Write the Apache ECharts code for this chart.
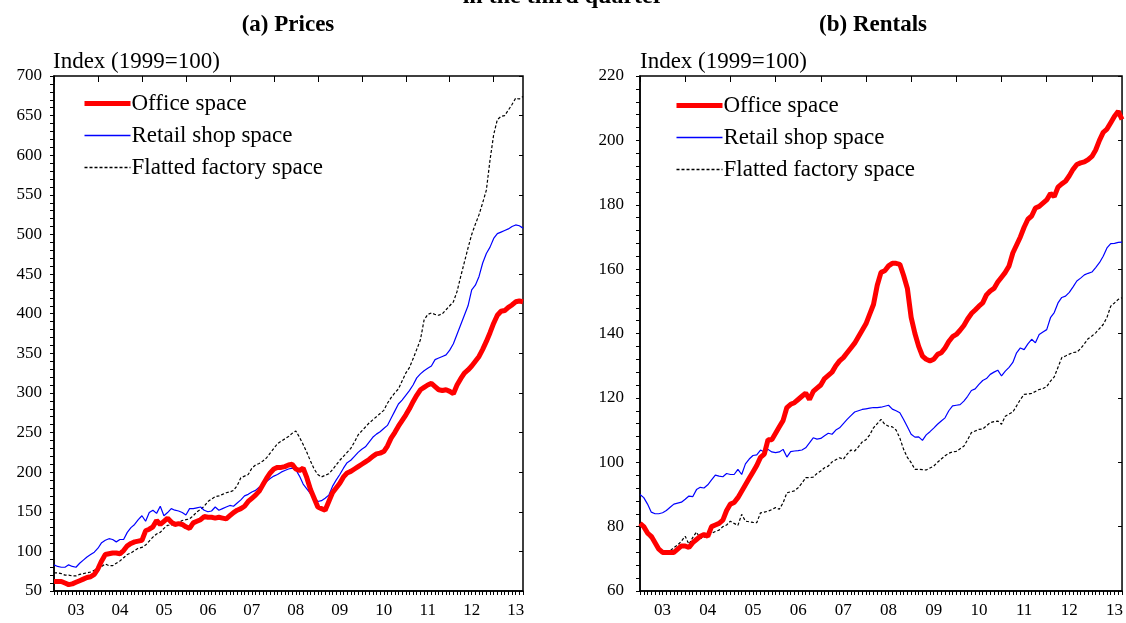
<!DOCTYPE html>
<html>
<head>
  <meta charset="utf-8">
  <title>Commercial and industrial property</title>
  <style>
    html, body, #chart { margin: 0; padding: 0; width: 1126px; height: 623px; background: #fff; }
  </style>
</head>
<body>
  <div id="chart"></div>
  <script src="https://cdn.jsdelivr.net/npm/echarts@6/dist/echarts.min.js"></script>
  <script>
    // year tick labels, monthly data Jan 2003 - Sep 2013
    var years = ['03', '04', '05', '06', '07', '08', '09', '10', '11', '12', '13'];
    var seriesNames = ['Office space', 'Retail shop space', 'Flatted factory space'];

    // (a) Prices, index 1999=100
    var priceOffice = [
      62, 62, 62, 60, 58, 59, 61, 63, 65, 67, 68, 71,
      78, 88, 96, 97, 98, 98, 97, 101, 107, 110, 112, 113,
      114, 126, 128, 131, 139, 134, 138, 142, 137, 134, 135, 134,
      131, 129, 136, 138, 140, 144, 143, 143, 142, 143, 142, 141,
      145, 149, 152, 154, 157, 163, 167, 171, 176, 184, 192, 199,
      204, 206, 206, 207, 209, 210, 204, 202, 205, 193, 178, 167,
      156, 154, 152, 163, 174, 180, 186, 194, 199, 201, 204, 207,
      210, 213, 216, 220, 223, 224, 226, 233, 243, 250, 258, 265,
      272, 280, 289, 297, 304, 307, 310, 312, 308, 304, 303, 304,
      302, 299, 310, 318, 325, 329, 334, 340, 346, 355, 365, 376,
      388, 398, 403, 404, 408, 411, 415, 416, 415
    ];
    var priceRetail = [
      83, 81, 80, 80, 83, 81, 80, 85, 89, 93, 96, 99,
      104, 111, 114, 116, 115, 112, 115, 115, 124, 130, 134, 140,
      145, 138, 149, 152, 148, 157, 145, 149, 154, 152, 151, 149,
      146, 154, 154, 155, 156, 152, 150, 151, 156, 152, 154, 156,
      158, 157, 161, 165, 170, 172, 175, 177, 181, 184, 188, 192,
      195, 197, 200, 202, 204, 205, 203, 195, 185, 179, 173, 168,
      163, 164, 167, 171, 182, 190, 197, 205, 212, 215, 220, 225,
      229, 232, 238, 244, 248, 251, 255, 259, 268, 277, 286, 291,
      297, 303, 310, 319, 324, 328, 331, 334, 342, 344, 346, 348,
      354, 362, 374, 386, 398, 410, 430, 436, 447, 464, 476, 484,
      495, 501, 503, 505, 507, 510, 512, 511, 508
    ];
    var priceFactory = [
      73, 73, 72, 70, 70, 69, 69, 71, 72, 73, 74, 76,
      78, 81, 84, 82, 82, 85, 88, 92, 96, 98, 101, 104,
      105, 108, 113, 118, 122, 124, 129, 133, 133, 135, 136, 139,
      140, 141, 145, 150, 153, 157, 163, 166, 169, 170, 172, 174,
      175, 177, 183, 193, 195, 197, 205, 209, 211, 214, 218, 224,
      230, 236, 239, 242, 245, 249, 252, 244, 235, 225, 214, 204,
      197, 194, 196, 198, 203, 209, 215, 220, 225, 230, 238, 247,
      252, 257, 262, 266, 270, 274, 278, 287, 294, 300, 305, 315,
      325, 332, 343, 355, 367, 392, 399, 401, 399, 398, 400, 405,
      410, 415, 428, 447, 465, 483, 500, 513, 525, 540, 556, 594,
      626, 645, 649, 650, 657, 664, 672, 671, 674
    ];

    // (b) Rentals, index 1999=100
    var rentOffice = [
      81, 80, 78, 77, 75, 73, 72, 72, 72, 72, 73, 74,
      74, 73.5, 75, 76, 77, 77.5, 77, 80, 80.5, 81, 82, 85,
      87, 87.5, 89, 91, 93, 95, 97, 99, 101.5, 102.5, 107, 107,
      109, 111, 113, 117, 118, 118.5, 119.5, 120.5, 121.5, 119.5, 122, 123,
      124, 126, 127, 128, 130, 131.5, 132.5, 134, 135.5, 137, 139, 141,
      143, 146, 149, 155, 159, 159.5, 161, 161.8, 161.8, 161.5, 158, 154,
      145, 140, 136, 133, 132, 131.5, 132, 133.5, 134, 135.5, 137.5, 139,
      139.7, 141, 142.5, 144.5, 146.2, 147.3, 148.5, 149.5, 152, 153.2, 154, 156,
      157.5, 159, 161, 165, 167.5, 170, 173, 175.5, 176.5, 179, 179.5, 180.5,
      181.5, 183.5, 182.5, 185.5, 186.5, 187.3, 189, 191, 192.5, 193, 193.3, 194,
      195, 197, 200, 202.5, 203.5, 205.5, 207.5, 209, 206.5
    ];
    var rentRetail = [
      90, 89, 87, 84.5, 84, 84, 84.3, 85, 86, 87, 87.3, 87.6,
      88.5, 89.5, 89.3, 91.5, 92.2, 92, 93, 94.5, 96, 95.7, 95.5, 96.5,
      96.2, 96.2, 97.8, 96.2, 99.5, 101, 102.1, 102.3, 103.8, 103.2, 104, 103.2,
      103, 103.2, 104, 101.6, 103.3, 103.5, 103.6, 103.8, 104.5, 106, 107.6, 107.2,
      107.4, 108.2, 109, 108.7, 110, 110.7, 112, 113.3, 114.5, 115.6, 116, 116.4,
      116.6, 116.8, 117, 117, 117.1, 117.4, 117.7, 116.5, 116, 115.4, 113.3, 111,
      108.7, 107.8, 107.9, 106.8, 108.5, 109.5, 110.6, 111.8, 112.8, 113.8, 116, 117.5,
      117.7, 117.9, 119, 120.5, 122.3, 122.8, 124.2, 125.4, 126, 127.3, 128, 128.6,
      126.8, 128.3, 129.5, 131, 134, 135.5, 135, 136.8, 138.2, 137.1, 139.7, 140.5,
      141.2, 144.9, 146.5, 149.5, 151.2, 151.6, 152.8, 154.5, 156.3, 157.2, 158.2, 158.7,
      159.1, 160.5, 162, 164, 166.6, 167.9, 168, 168.3, 168.4
    ];
    var rentFactory = [
      81, 79.5, 77.5, 76, 75, 73, 72.4, 72, 72.5, 73.5, 74.3, 75.5,
      77, 74.5, 76.6, 78.3, 76.3, 76.7, 77.2, 77.9, 78.5, 78.9, 80, 80.5,
      81.7, 81, 80.4, 83.8, 81.7, 81.5, 81.3, 81.2, 84.3, 84.5, 84.8, 85.3,
      85.9, 85.4, 87.4, 90.5, 90.8, 91.1, 92.1, 93.5, 95.2, 95.2, 95.4, 96.5,
      97.3, 98.3, 98.8, 100.1, 100.8, 101.4, 100.9, 102.5, 103.8, 103.5, 104.8, 106.3,
      107, 108.5, 110.7, 112, 113.3, 111.8, 111.2, 111, 110, 107.5, 104, 101.5,
      99.9, 97.8, 97.8, 97.7, 97.6, 98.2, 98.8, 100, 101, 102, 102.8, 103.2,
      103.4, 104.2, 105, 107, 109.2, 109.7, 110.2, 110.3, 111.3, 112.3, 112.6, 112.8,
      111.8, 114.3, 115, 115.6, 117.5, 119.5, 121.1, 121.2, 121.4, 122, 122.6, 122.9,
      123.5, 125.2, 126.5, 129.5, 132.5, 133, 133.6, 134.1, 134.2, 135.3, 136.8, 138.4,
      139.2, 140.2, 141.5, 142.8, 145, 148.5, 149.5, 150.6, 151.1
    ];

    var months = [];
    years.forEach(function (y) {
      for (var m = 1; m <= 12; m++) months.push('20' + y + '-' + (m < 10 ? '0' + m : m));
    });
    months = months.slice(0, priceOffice.length);

    var serif = '"Liberation Serif", "Times New Roman", serif';
    var black = '#000';
    var lineStyles = [
      { color: '#ff0000', width: 5, type: 'solid' },
      { color: '#0000ff', width: 1.2, type: 'solid' },
      { color: '#000000', width: 1.2, type: [3, 2] }
    ];
    var legendWidths = [5, 1.6, 1.3];

    function xAxes(gridIndex) {
      return [{
        type: 'category',
        gridIndex: gridIndex,
        data: months,
        boundaryGap: false,
        axisLine: { lineStyle: { color: black, width: 1.5 } },
        axisTick: { show: true, interval: 0, length: 4, lineStyle: { color: black } },
        axisLabel: {
          interval: function (idx) { return idx % 12 === 6; },
          formatter: function (v, idx) { return years[Math.floor(idx / 12)]; },
          color: black, fontFamily: serif, fontSize: 17, margin: 11
        },
        splitLine: { show: false }
      }, {
        // year ticks pointing up into the plot
        type: 'category',
        gridIndex: gridIndex,
        data: months,
        boundaryGap: false,
        axisLine: { show: false },
        axisTick: { show: true, inside: true, length: 6, interval: function (idx) { return idx % 12 === 0; }, lineStyle: { color: black } },
        axisLabel: { show: false },
        splitLine: { show: false }
      }];
    }

    function yAxes(gridIndex, min, max, step, margin) {
      return [{
        type: 'value',
        gridIndex: gridIndex,
        min: min, max: max, interval: step,
        axisLine: { show: true, lineStyle: { color: black, width: 1.5 } },
        axisTick: { show: true, length: 4, lineStyle: { color: black } },
        minorTick: { show: true, splitNumber: 5, length: 4, lineStyle: { color: black } },
        axisLabel: { color: black, fontFamily: serif, fontSize: 17, margin: margin },
        splitLine: { show: false }
      }, {
        type: 'value',
        gridIndex: gridIndex,
        min: min, max: max, interval: step,
        axisLine: { show: false },
        axisTick: { show: true, inside: true, length: 4, lineStyle: { color: black } },
        axisLabel: { show: false },
        splitLine: { show: false }
      }];
    }

    function lines(gridIndex, values) {
      return values.map(function (arr, k) {
        return {
          name: seriesNames[k],
          type: 'line',
          xAxisIndex: gridIndex * 2,
          yAxisIndex: gridIndex * 2,
          data: arr,
          symbol: 'none',
          lineStyle: lineStyles[k],
          itemStyle: { color: lineStyles[k].color },
          z: 3 - k
        };
      });
    }

    function legend(left, top) {
      return {
        data: seriesNames.map(function (n, k) {
          return { name: n, lineStyle: { width: legendWidths[k], type: lineStyles[k].type, color: lineStyles[k].color } };
        }),
        orient: 'vertical',
        left: left, top: top,
        itemWidth: 46, itemHeight: 20, itemGap: 9,
        selectedMode: false,
        itemStyle: { opacity: 0 },
        textStyle: { color: black, fontFamily: serif, fontSize: 23, lineHeight: 20, padding: [0, 0, 0, -4] }
      };
    }

    var chart = echarts.init(document.getElementById('chart'));
    chart.setOption({
      animation: false,
      backgroundColor: '#fff',
      grid: [
        { left: 54, top: 76, width: 469, height: 515, show: true, borderColor: black, borderWidth: 1.5 },
        { left: 640, top: 76, width: 483, height: 515, show: true, borderColor: black, borderWidth: 1.5 }
      ],
      xAxis: xAxes(0).concat(xAxes(1)),
      yAxis: yAxes(0, 50, 700, 50, 12).concat(yAxes(1, 60, 220, 20, 16)),
      legend: [legend(77, 87), legend(669, 89)],
      graphic: [
        { type: 'text', x: 563, y: -3, style: { text: 'in the third quarter', font: 'bold 24px ' + serif, fill: black, textAlign: 'center', textVerticalAlign: 'middle' } },
        { type: 'text', x: 288, y: 25, style: { text: '(a) Prices', font: 'bold 23px ' + serif, fill: black, textAlign: 'center', textVerticalAlign: 'middle' } },
        { type: 'text', x: 873, y: 25, style: { text: '(b) Rentals', font: 'bold 23px ' + serif, fill: black, textAlign: 'center', textVerticalAlign: 'middle' } },
        { type: 'text', x: 53, y: 62, style: { text: 'Index (1999=100)', font: '23px ' + serif, fill: black, textAlign: 'left', textVerticalAlign: 'middle' } },
        { type: 'text', x: 640, y: 62, style: { text: 'Index (1999=100)', font: '23px ' + serif, fill: black, textAlign: 'left', textVerticalAlign: 'middle' } }
      ],
      series: lines(0, [priceOffice, priceRetail, priceFactory])
        .concat(lines(1, [rentOffice, rentRetail, rentFactory]))
    });
  </script>
</body>
</html>
